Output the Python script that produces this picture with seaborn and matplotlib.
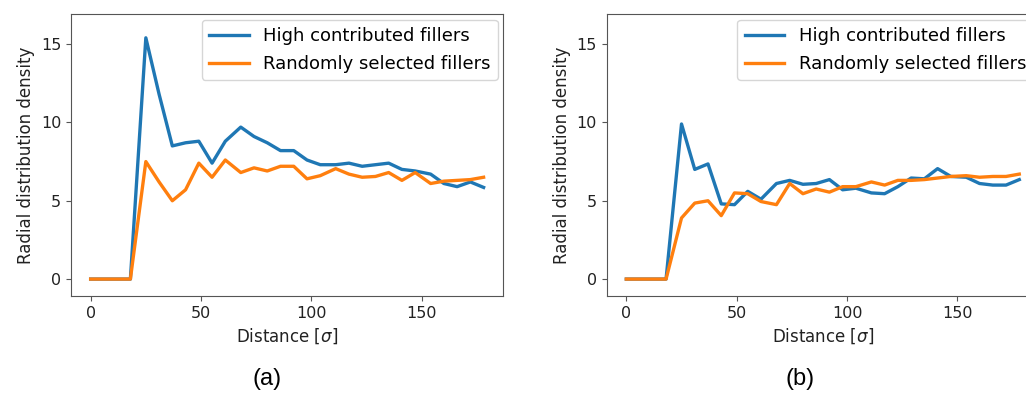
import matplotlib
matplotlib.use("Agg")
import matplotlib.pyplot as plt
import seaborn as sns

distance = [0, 6, 12, 18, 25, 31, 37, 43, 49, 55, 61, 68, 74, 80, 86,
            92, 98, 104, 111, 117, 123, 129, 135, 141, 147, 154, 160, 166, 172, 178]

high_a = [0, 0, 0, 0, 15.4, 11.8, 8.5, 8.7, 8.8, 7.4, 8.8, 9.7, 9.1, 8.7, 8.2,
          8.2, 7.6, 7.3, 7.3, 7.4, 7.2, 7.3, 7.4, 7.0, 6.9, 6.7, 6.1, 5.9, 6.2, 5.85]
rand_a = [0, 0, 0, 0, 7.5, 6.2, 5.0, 5.7, 7.4, 6.5, 7.6, 6.8, 7.1, 6.9, 7.2,
          7.2, 6.4, 6.6, 7.05, 6.7, 6.5, 6.55, 6.8, 6.3, 6.8, 6.1, 6.25, 6.3, 6.35, 6.5]

high_b = [0, 0, 0, 0, 9.9, 7.0, 7.35, 4.8, 4.75, 5.6, 5.1, 6.1, 6.3, 6.05, 6.1,
          6.35, 5.7, 5.8, 5.5, 5.45, 5.9, 6.45, 6.4, 7.05, 6.55, 6.5, 6.1, 6.0, 6.0, 6.35]
rand_b = [0, 0, 0, 0, 3.9, 4.85, 5.0, 4.05, 5.5, 5.45, 4.95, 4.75, 6.1, 5.45, 5.75,
          5.55, 5.9, 5.9, 6.2, 6.0, 6.3, 6.3, 6.35, 6.45, 6.55, 6.6, 6.5, 6.55, 6.55, 6.7]

series_names = ["High contributed fillers", "Randomly selected fillers"]
panel_labels = ["(a)", "(b)"]
colors = ["#1f77b4", "#ff7f0e"]

fig = plt.figure(figsize=(10.26, 3.93), dpi=100)
ax_a = fig.add_axes([0.0692, 0.2468, 0.4213, 0.7168])
ax_b = fig.add_axes([0.5913, 0.2468, 0.4213, 0.7168])

for ax, high, rand, tag, xc in [(ax_a, high_a, rand_a, panel_labels[0], 266.7 / 1026),
                                (ax_b, high_b, rand_b, panel_labels[1], 800 / 1026)]:
    sns.lineplot(x=distance, y=high, color=colors[0], lw=2.4, label=series_names[0], ax=ax)
    sns.lineplot(x=distance, y=rand, color=colors[1], lw=2.4, label=series_names[1], ax=ax)
    ax.set_ylim(-1.08, 16.9)
    ax.set_yticks([0, 5, 10, 15])
    ax.set_xticks([0, 50, 100, 150])
    ax.tick_params(labelsize=11.5, color="#555555", labelcolor="#222222")
    for s in ax.spines.values():
        s.set_color("#555555")
    ax.set_xlabel(r"Distance [$\sigma$]", fontsize=12, color="#222222")
    ax.set_ylabel("Radial distribution density", fontsize=12, color="#222222")
    ax.legend(loc="upper right", fontsize=13, handlelength=2.2,
              labelspacing=0.55, borderaxespad=0.3)
    fig.text(xc, 1 - 379 / 393, tag, ha="center", va="center",
             fontsize=17, family="Liberation Sans")

fig.savefig("out.png", dpi=100)
